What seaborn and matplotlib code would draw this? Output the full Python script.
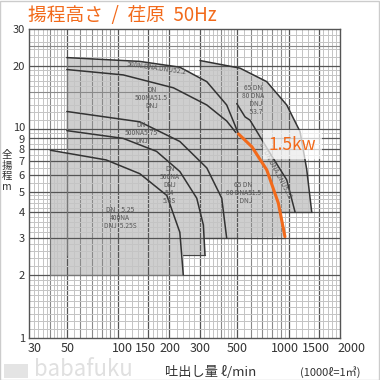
import numpy as np
import matplotlib
matplotlib.use('Agg')
import matplotlib.pyplot as plt
import matplotlib.transforms as mtransforms
import seaborn as sns

# pump curves (flow l/min, head m)
c40_525_q = [40, 85, 134, 193, 230, 241]
c40_525_h = [7.9, 7.1, 6.1, 4.8, 3.2, 2.0]

c50_54_q = [50, 107, 168, 230, 289, 316, 323]
c50_54_h = [9.8, 9.0, 7.8, 6.25, 4.66, 3.47, 2.5]

c50_575_q = [50, 134, 230, 331, 405, 433]
c50_575_h = [12.1, 10.8, 8.7, 6.5, 4.66, 3.0]

c50_515_q = [50, 107, 211, 331, 433, 490]
c50_515_h = [19.2, 18.1, 15.7, 13.0, 10.9, 9.6]

c50_522_q = [50, 134, 230, 331, 433, 507]
c50_522_h = [21.9, 21.0, 19.7, 16.8, 13.0, 9.5]

c65_537_q = [302, 518, 744, 974, 1166, 1276, 1365]
c65_537_h = [21.2, 19.5, 16.8, 13.0, 9.7, 6.4, 4.0]

c65_522_q = [496, 555, 593, 777, 974, 1090]
c65_522_h = [13.2, 11.4, 11.0, 7.65, 5.7, 4.0]

c65_515_q = [508, 609, 744, 870, 951]
c65_515_h = [9.45, 8.2, 6.36, 4.41, 3.05]

x_ticks = [30, 50, 100, 150, 200, 300, 500, 1000, 1500, 2000]
x_shift = [6, 1, 4, -3, 0, 1, 0, -4, -3, 11]   # label nudges in pixels
y_ticks = [1, 2, 3, 4, 5, 6, 7, 8, 9, 10, 20, 30]
y_shift = [0, 0, 0, 0, 0, 0, 0, 0, -1, 2, 0, 0]

sns.set_theme(style='white')
plt.rcParams['font.family'] = ['Noto Sans CJK JP', 'DejaVu Sans']

fig = plt.figure(figsize=(3.8, 3.8), dpi=100)
fig.patch.set_facecolor('white')
fig.patches.append(plt.Rectangle((0.001, 0.001), 0.997, 0.997, transform=fig.transFigure,
                                 fill=False, edgecolor='#cccccc', lw=1))
ax = fig.add_axes([29/380, 1-338/380, 311/380, 309/380])
ax.set_xscale('log')
ax.set_yscale('log')
ax.set_xlim(30, 2000)
ax.set_ylim(1, 30)

# log paper grid
x_light = (list(range(32, 50, 2)) + list(range(55, 100, 5)) + list(range(110, 200, 10))
           + list(range(220, 500, 20)) + list(range(550, 1000, 50)) + list(range(1100, 2000, 100)))
x_mid = [40, 60, 70, 80, 90, 400, 600, 700, 800, 900]
x_dark = [50, 100, 150, 200, 300, 500, 1000, 1500]
y_light = ([1.1, 1.2, 1.3, 1.4, 1.5, 1.6, 1.7, 1.8, 1.9] + list(np.arange(2.2, 5, 0.2))
           + [5.5, 6.5, 7.5, 8.5, 9.5] + list(range(11, 20)) + [22, 24, 26, 28])
y_mid = [15, 25]
y_dark = [2, 3, 4, 5, 6, 7, 8, 9, 10, 20]
for v in x_light:
    ax.axvline(v, color='#c4c4c4', lw=0.7, zorder=2)
for v in x_mid:
    ax.axvline(v, color='#8a8a8a', lw=0.8, zorder=2)
for v in x_dark:
    ax.axvline(v, color='#555555', lw=0.9, zorder=2)
for v in y_light:
    ax.axhline(v, color='#c4c4c4', lw=0.7, zorder=2)
for v in y_mid:
    ax.axhline(v, color='#8a8a8a', lw=0.8, zorder=2)
for v in y_dark:
    ax.axhline(v, color='#555555', lw=0.9, zorder=2)

# shaded areas
shade = '#cecece'
ax.fill(c40_525_q + [40], c40_525_h + [2.0], color=shade, lw=0, zorder=1)
ax.fill(c50_54_q + [50], c50_54_h + [2.5], color=shade, lw=0, zorder=1)
ax.fill(c50_575_q + [50], c50_575_h + [3.0], color=shade, lw=0, zorder=1)
ax.fill(c50_522_q + [507, 50], c50_522_h + [3.0, 3.0], color=shade, lw=0, zorder=1)
ax.fill([300] + c65_537_q + [300], [4.0] + c65_537_h + [4.0], color=shade, lw=0, zorder=1)
ax.fill([300] + c65_515_q + [300], [9.45] + c65_515_h + [3.0], color=shade, lw=0, zorder=1)

# region outlines
edge = '#444444'
ax.plot([40, 40, 241], [7.9, 2.0, 2.0], color='#777777', lw=0.8, zorder=3)
ax.plot([50, 50], [2.5, 21.9], color='#777777', lw=0.8, zorder=3)
ax.plot([241, 323], [2.5, 2.5], color=edge, lw=0.9, zorder=3)
ax.plot([323, 951], [3.0, 3.0], color=edge, lw=0.9, zorder=3)
ax.plot([900, 1365], [4.0, 4.0], color=edge, lw=0.9, zorder=3)
ax.plot([302, 302], [19.8, 21.2], color=edge, lw=0.9, zorder=3)

for q, h in [(c40_525_q, c40_525_h), (c50_54_q, c50_54_h), (c50_575_q, c50_575_h),
             (c50_515_q, c50_515_h), (c50_522_q, c50_522_h), (c65_537_q, c65_537_h),
             (c65_522_q, c65_522_h)]:
    sns.lineplot(x=q, y=h, ax=ax, color='#333333', lw=1.1, zorder=4, sort=False)

sns.lineplot(x=c65_515_q, y=c65_515_h, ax=ax, color='#f26a1b', lw=2.2, zorder=5, sort=False)

# model labels
lab = dict(fontsize=4.8, color='#555555', ha='center', va='center', zorder=6, linespacing=1.0)
ax.text(168, 19.4, '500N.DNA.DNU52.2', rotation=-8, **lab)
ax.text(157, 14.0, 'DN\n500NA51.5\nDNJ', **lab)
ax.text(137, 9.6, 'DN\n500NA5.75\nDNJ', **lab)
ax.text(201, 5.4, 'DN\n500NA\nDNJ\n5.4\n5.4S', **lab)
ax.text(103, 3.74, 'DN    5.25\n400NA\nDNJ  5.25S', **lab)
ax.text(621, 13.8, '65 DN\n80 DNA\n   DNJ\n   53.7', **lab)
ax.text(834, 6.3, '80 DN.DNA.DNU52.2', rotation=-62, **lab)
ax.text(542, 4.93, '65 DN\n80 DNA51.5\n   DNJ', **lab)

ax.text(765, 8.4, '1.5kw', fontsize=12.5, color='#f26a1b', ha='left', va='center', zorder=7,
        bbox=dict(facecolor='white', edgecolor='none', alpha=0.7, pad=4))

ax.set_xticks(x_ticks)
ax.set_xticklabels([str(v) for v in x_ticks])
ax.set_yticks(y_ticks)
ax.set_yticklabels([str(v) for v in y_ticks])
ax.minorticks_off()
ax.tick_params(axis='x', length=0, labelsize=9, colors='#333333', pad=3)
ax.tick_params(axis='y', length=0, labelsize=8, colors='#333333', pad=3)
for lbl, dx in zip(ax.get_xticklabels(), x_shift):
    lbl.set_transform(lbl.get_transform() + mtransforms.ScaledTranslation(dx/100, 0, fig.dpi_scale_trans))
for lbl, dy in zip(ax.get_yticklabels(), y_shift):
    lbl.set_transform(lbl.get_transform() + mtransforms.ScaledTranslation(0, dy/100, fig.dpi_scale_trans))
for s in ax.spines.values():
    s.set_color('#555555')
    s.set_linewidth(1.0)

fig.text(28/380, 1-15/380, '揚程高さ  /  荏原  50Hz', fontsize=13.5, color='#f26a1b', va='center')
fig.text(7/380, 1-171/380, '全\n揚\n程\nm', fontsize=7.5, color='#333333', ha='center', va='center',
         linespacing=1.1)
fig.text(211/380, 1-372/380, '吐出し量 ℓ/min', fontsize=9.5, color='#333333', ha='center', va='center')
fig.text(330/380, 1-372/380, '(1000ℓ=1㎥)', fontsize=8, color='#333333', ha='center', va='center')
fig.patches.append(plt.Rectangle((4/380, 1-378/380), 24/380, 14/380, transform=fig.transFigure,
                                 facecolor='#e4e4e4', edgecolor='none'))
fig.text(34/380, 1-370/380, 'babafuku', fontsize=16, color='#e0e0e0', ha='left', va='center')

fig.savefig('out.png', dpi=100)
